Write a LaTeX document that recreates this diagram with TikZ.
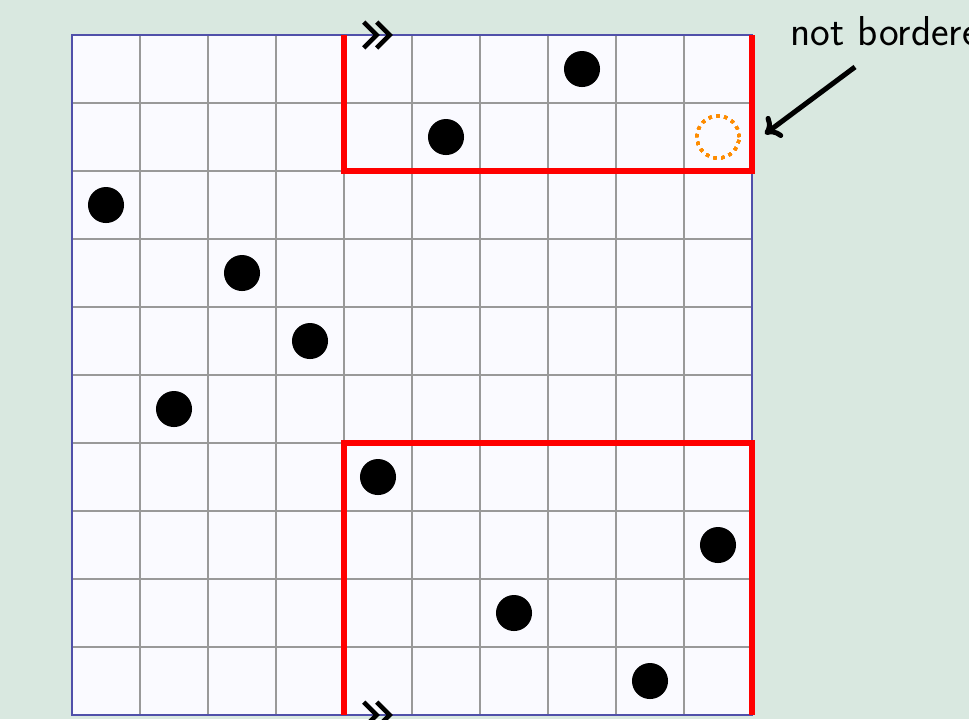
\documentclass[tikz,border=0pt]{standalone}
\usepackage{tikz}
\usetikzlibrary{arrows.meta}
\definecolor{slidebg}{RGB}{217,232,224}
\definecolor{boardbg}{RGB}{250,250,255}
\definecolor{boardrim}{RGB}{80,80,170}
\definecolor{ringcol}{RGB}{255,140,0}
\newcommand{\stone}[2]{\fill (#1+.5,#2+.5) circle (.265);}
\newcommand{\chev}[2]{\draw[line width=1.9pt] (#1-.19,#2+.19)--(#1,#2)--(#1-.19,#2-.19);}

\begin{document}
\begin{tikzpicture}[x=1cm,y=1cm,font=\sffamily]
\fill[slidebg] (-1.059,-0.059) rectangle (13.191,10.515);
\useasboundingbox (-1.059,-0.059) rectangle (13.191,10.515);
\fill[boardbg] (0,0) rectangle (10,10);
\draw[gray!80,line width=.45pt,step=1] (0,0) grid (10,10);
\draw[boardrim,line width=.9pt] (0,0) rectangle (10,10);
% stones, row by row from the top
\foreach \c/\r in {7/9,5/8,0/7,2/6,3/5,1/4,4/3,9/2,6/1,8/0}\stone{\c}{\r}
\draw[ringcol,line width=1.3pt,dotted] (9.5,8.5) circle (.31);
% bordered regions
\draw[red,line width=2.2pt] (4,10)--(4,8)--(10,8)--(10,10);
\draw[red,line width=2.2pt] (4,0)--(4,4)--(10,4)--(10,0);
\chev{4.48}{10}\chev{4.67}{10}
\chev{4.48}{0}\chev{4.67}{0}
\node[anchor=base west,inner sep=0pt,font=\sffamily\fontsize{17.5}{20}\selectfont] (lbl) at (10.56,9.85) {not bordered};
\coordinate (tail) at (11.515,9.53);\coordinate (head) at (10.19,8.544);
\draw[line width=2.1pt,-{To[length=6pt,width=11pt]}] (tail)--(head);
\end{tikzpicture}
\end{document}
